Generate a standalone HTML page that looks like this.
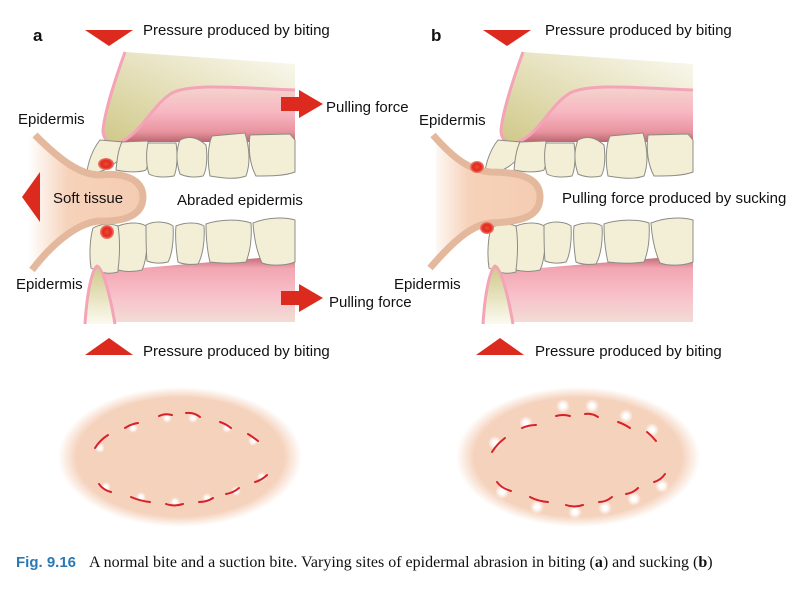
<!DOCTYPE html>
<html><head><meta charset="utf-8"><style>
html,body{margin:0;padding:0;background:#fff;width:794px;height:589px;overflow:hidden}
svg{display:block}
text{font-family:"Liberation Sans",sans-serif;font-size:15px;fill:#111}
</style></head><body>
<svg width="794" height="589" viewBox="0 0 794 589" xmlns="http://www.w3.org/2000/svg">
<defs>
<linearGradient id="bone" x1="0" y1="1" x2="1" y2="0"><stop offset="0" stop-color="#cfc888"/><stop offset="0.5" stop-color="#e6e1bd"/><stop offset="1" stop-color="#fbfaf2"/></linearGradient>
<linearGradient id="ugum" x1="0" y1="0" x2="0" y2="1"><stop offset="0" stop-color="#f2d4cc"/><stop offset="0.45" stop-color="#f8b6c2"/><stop offset="0.8" stop-color="#e8949f"/><stop offset="1" stop-color="#b8606a"/></linearGradient>
<linearGradient id="lgum" x1="0" y1="0" x2="0" y2="1"><stop offset="0" stop-color="#b8606a"/><stop offset="0.2" stop-color="#f2a6b2"/><stop offset="0.6" stop-color="#f8c0ca"/><stop offset="1" stop-color="#f2dcd4"/></linearGradient>
<linearGradient id="lbone" x1="0" y1="0" x2="0" y2="1"><stop offset="0" stop-color="#cfc888"/><stop offset="1" stop-color="#fbfaf0"/></linearGradient>
<linearGradient id="tis" x1="0" y1="0" x2="1" y2="0"><stop offset="0" stop-color="#f6d2ba" stop-opacity="0"/><stop offset="0.35" stop-color="#f6d2ba"/><stop offset="1" stop-color="#f4ccb2"/></linearGradient>
<radialGradient id="oval"><stop offset="0.85" stop-color="#f5d2bc"/><stop offset="1" stop-color="#f5d2bc" stop-opacity="0"/></radialGradient>
<radialGradient id="spot"><stop offset="0" stop-color="#f04a30"/><stop offset="0.6" stop-color="#e02a20"/><stop offset="1" stop-color="#f08070"/></radialGradient>
<radialGradient id="wd"><stop offset="0.3" stop-color="#fff"/><stop offset="1" stop-color="#fff" stop-opacity="0"/></radialGradient>
<g id="jaw">
 <path d="M125,52 L295,64 L295,90 C240,88 190,83 170,95 C150,110 132,140 117,143 C102,143 100,133 103,125 Z" fill="url(#bone)"/>
 <path d="M117,143 C132,140 150,110 170,95 C190,83 240,88 295,90 L295,142 L117,142 Z" fill="url(#ugum)"/>
 <path d="M125,52 C115,80 105,110 103,130 C103,142 112,145 120,142 C140,135 152,105 172,93 C192,83 240,88 295,90" fill="none" stroke="#f4a4b6" stroke-width="3"/>
 <g fill="#f3efd7" stroke="#8c8c84" stroke-width="1">
  <path d="M100,140 C92,150 88,163 87,172 C98,175 112,168 120,158 L123,142 Z"/>
  <path d="M122,142 L148,141 C150,155 148,165 146,170 C138,173 125,172 116,170 C117,160 118,150 122,142 Z"/>
  <path d="M148,143 L176,143 C178,155 177,170 174,176 C164,178 154,177 149,174 C146,165 146,152 148,143 Z"/>
  <path d="M180,140 C190,135 198,138 206,145 C208,160 206,172 203,176 C195,178 186,177 180,174 C176,162 176,150 180,140 Z"/>
  <path d="M212,136 L245,133 C250,150 250,165 246,176 C235,180 222,178 210,176 C207,160 208,145 212,136 Z"/>
  <path d="M250,135 L290,134 L295,140 L295,172 C285,176 270,176 256,176 C250,165 248,150 250,135 Z"/>
 </g>
 <path d="M95,272 L295,255 L295,322 L112,322 Z" fill="url(#lgum)"/>
 <g fill="#f3efd7" stroke="#8c8c84" stroke-width="1">
  <path d="M93,228 C100,224 110,223 118,226 C122,240 121,258 118,272 C108,275 98,272 91,268 C89,255 90,238 93,228 Z"/>
  <path d="M118,226 C128,222 140,222 146,226 C148,240 147,260 142,270 C134,272 126,272 118,270 C120,255 120,238 118,226 Z"/>
  <path d="M146,225 C155,220 168,222 173,226 C174,240 172,255 168,262 C160,264 152,263 147,261 C146,250 146,235 146,225 Z"/>
  <path d="M176,226 C185,222 198,222 204,226 C205,240 203,255 198,264 C190,265 182,264 178,262 C176,250 175,235 176,226 Z"/>
  <path d="M206,224 C220,219 240,219 251,223 C252,238 250,252 246,262 C232,264 218,263 210,262 C207,250 206,236 206,224 Z"/>
  <path d="M253,223 C268,217 285,217 295,220 L295,262 C285,266 270,266 262,263 C257,252 254,238 253,223 Z"/>
 </g>
 <path d="M85,324 C87,292 92,270 97,266 C103,268 110,295 115,324 Z" fill="url(#lbone)"/>
 <path d="M85,324 C87,292 92,270 97,266 C103,268 110,295 115,324" fill="none" stroke="#f4a4b6" stroke-width="3"/>
</g>
</defs>

<!-- panel a -->
<use href="#jaw"/>
<path d="M35,135 C60,160 80,175 100,175 C125,172 143,180 143,197 C143,215 125,222 100,221 C80,222 55,240 32,270 L28,270 L28,135 Z" fill="url(#tis)"/>
<path d="M35,135 C60,160 80,175 100,175 C125,172 143,180 143,197 C143,215 125,222 100,221 C80,222 55,240 32,270" fill="none" stroke="#e4b89c" stroke-width="7"/>
<ellipse cx="106" cy="164" rx="8" ry="6" fill="url(#spot)"/>
<ellipse cx="107" cy="232" rx="7" ry="7" fill="url(#spot)"/>
<polygon points="22,197 40,172 40,222" fill="#dd2a1e"/>
<polygon points="85,30 133,30 109,46" fill="#dd2a1e"/>
<polygon points="85,355 133,355 109,338" fill="#dd2a1e"/>
<path d="M281,97 H299 V90 L323,104 L299,118 V111 H281 Z" fill="#dd2a1e"/>
<path d="M281,291 H299 V284 L323,298 L299,312 V305 H281 Z" fill="#dd2a1e"/>
<text x="33" y="41" style="font-weight:bold;font-size:17px">a</text>
<text x="143" y="35">Pressure produced by biting</text>
<text x="143" y="356">Pressure produced by biting</text>
<text x="326" y="112">Pulling force</text>
<text x="329" y="307">Pulling force</text>
<text x="18" y="124">Epidermis</text>
<text x="16" y="289">Epidermis</text>
<text x="53" y="203">Soft tissue</text>
<text x="177" y="205">Abraded epidermis</text>

<!-- panel b -->
<use href="#jaw" transform="translate(398,0)"/>
<path d="M433,135 C455,160 470,170 490,172 C525,172 540,180 540,197 C540,215 525,222 490,223 C470,225 450,245 430,268 L436,268 L436,135 Z" fill="url(#tis)"/>
<path d="M433,135 C455,160 470,170 490,172 C525,172 540,180 540,197 C540,215 525,222 490,223 C470,225 450,245 430,268" fill="none" stroke="#e4b89c" stroke-width="7"/>
<ellipse cx="477" cy="167" rx="7" ry="6" fill="url(#spot)"/>
<ellipse cx="487" cy="228" rx="7" ry="6" fill="url(#spot)"/>
<polygon points="483,30 531,30 507,46" fill="#dd2a1e"/>
<polygon points="476,355 524,355 500,338" fill="#dd2a1e"/>
<text x="431" y="41" style="font-weight:bold;font-size:17px">b</text>
<text x="545" y="35">Pressure produced by biting</text>
<text x="535" y="356">Pressure produced by biting</text>
<text x="419" y="125">Epidermis</text>
<text x="394" y="289">Epidermis</text>
<text x="562" y="203">Pulling force produced by sucking</text>

<!-- ovals -->
<ellipse cx="180" cy="457" rx="122" ry="70" fill="url(#oval)"/>
<ellipse cx="578" cy="457" rx="122" ry="70" fill="url(#oval)"/>
<g fill="url(#wd)">
 <circle cx="100" cy="448" r="5"/><circle cx="133" cy="428" r="5"/><circle cx="167" cy="418" r="5"/><circle cx="193" cy="418" r="5"/><circle cx="227" cy="428" r="5"/><circle cx="253" cy="441" r="5"/>
 <circle cx="106" cy="487" r="5"/><circle cx="141" cy="497" r="5"/><circle cx="175" cy="502" r="5"/><circle cx="207" cy="498" r="5"/><circle cx="236" cy="491" r="5"/><circle cx="262" cy="477" r="5"/>
 <circle cx="495" cy="443" r="7"/><circle cx="526" cy="423" r="7"/><circle cx="563" cy="406" r="7"/><circle cx="592" cy="406" r="7"/><circle cx="626" cy="416" r="7"/><circle cx="652" cy="430" r="7"/>
 <circle cx="502" cy="492" r="7"/><circle cx="537" cy="507" r="7"/><circle cx="575" cy="512" r="7"/><circle cx="605" cy="508" r="7"/><circle cx="634" cy="499" r="7"/><circle cx="662" cy="486" r="7"/>
</g>
<g fill="none" stroke="#d8202a" stroke-width="2" stroke-linecap="round">
 <path d="M95,448 Q100,440 108,435"/><path d="M125,428 Q131,424 138,423"/><path d="M159,416 Q165,413 172,415"/><path d="M186,413 Q194,412 200,417"/><path d="M220,422 Q226,424 231,428"/><path d="M248,434 Q253,437 258,441"/>
 <path d="M99,484 Q103,490 111,492"/><path d="M131,497 Q140,501 150,502"/><path d="M166,504 Q174,507 183,504"/><path d="M199,502 Q207,502 213,498"/><path d="M226,494 Q233,493 239,488"/><path d="M255,482 Q262,480 267,475"/>
 <path d="M492,452 Q497,444 505,438"/><path d="M522,428 Q529,425 536,425"/><path d="M556,416 Q563,414 570,416"/><path d="M585,414 Q592,413 598,417"/><path d="M618,422 Q624,424 630,428"/><path d="M647,432 Q652,436 656,441"/>
 <path d="M497,482 Q501,488 511,491"/><path d="M530,497 Q537,501 548,502"/><path d="M566,505 Q574,508 583,505"/><path d="M599,502 Q606,502 612,497"/><path d="M626,494 Q633,493 638,488"/><path d="M654,482 Q661,480 665,474"/>
</g>

<!-- caption -->
<text x="16" y="567" style="font-weight:bold;fill:#2a78b4;font-size:15px">Fig. 9.16</text>
<text x="89" y="567" style="font-family:'Liberation Serif',serif;font-size:16px">A normal bite and a suction bite. Varying sites of epidermal abrasion in biting (<tspan font-weight="bold">a</tspan>) and sucking (<tspan font-weight="bold">b</tspan>)</text>
</svg>
</body></html>
